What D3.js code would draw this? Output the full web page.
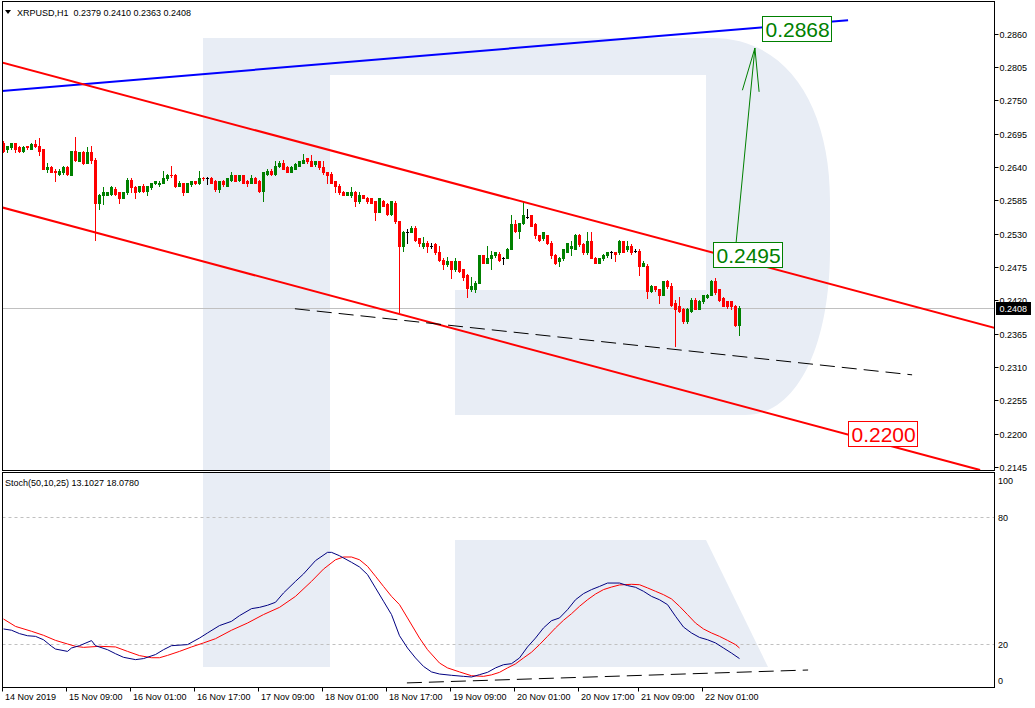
<!DOCTYPE html>
<html><head><meta charset="utf-8">
<script src="https://cdn.jsdelivr.net/npm/d3@7"></script>
<style>body{margin:0;background:#fff;} svg{display:block;font-family:"Liberation Sans",Arial,sans-serif;}</style>
</head><body><svg id="c" width="1035" height="708"></svg>
<script>
// ---------------- DATA ----------------
const symbolTitle = "XRPUSD,H1  0.2379 0.2410 0.2363 0.2408";
const stochTitle = "Stoch(50,10,25) 13.1027 18.0780";
const opens = [
.2680,.2669,.2672,.2679,.2672,.2667,.2674,.2670,.2677,.2675,
.2669,.2636,.2639,.2634,.2629,.2631,.2639,.2627,.2667,.2650,
.2665,.2647,.2665,.2652,.2581,.2593,.2594,.2596,.2604,.2598,
.2589,.2598,.2619,.2606,.2601,.2609,.2601,.2606,.2613,.2611,
.2614,.2621,.2627,.2627,.2609,.2613,.2599,.2611,.2616,.2613,
.2622,.2622,.2622,.2617,.2603,.2617,.2609,.2619,.2626,.2619,
.2626,.2617,.2614,.2622,.2617,.2601,.2629,.2634,.2629,.2641,
.2647,.2639,.2632,.2637,.2642,.2647,.2654,.2650,.2644,.2649,
.2639,.2631,.2629,.2616,.2609,.2599,.2594,.2593,.2599,.2583,
.2593,.2589,.2588,.2583,.2566,.2584,.2578,.2563,.2581,.2550,
.2510,.2533,.2533,.2540,.2522,.2509,.2515,.2510,.2512,.2499,
.2487,.2479,.2484,.2471,.2484,.2471,.2462,.2438,.2439,.2449,
.2494,.2482,.2489,.2494,.2497,.2490,.2490,.2505,.2545,.2535,
.2547,.2558,.2560,.2545,.2527,.2522,.2527,.2515,.2495,.2484,
.2489,.2500,.2507,.2505,.2528,.2512,.2499,.2517,.2490,.2482,
.2489,.2494,.2499,.2499,.2499,.2517,.2504,.2510,.2502,.2502,
.2477,.2477,.2436,.2443,.2438,.2429,.2451,.2443,.2415,.2411,
.2406,.2385,.2403,.2421,.2406,.2418,.2426,.2429,.2451,.2438,
.2424,.2418,.2418,.2411,.2379];
const highs = [
.2682,.2675,.2680,.2679,.2674,.2674,.2675,.2679,.2685,.2687,
.2670,.2646,.2641,.2636,.2636,.2641,.2641,.2667,.2690,.2665,
.2667,.2672,.2674,.2655,.2596,.2606,.2599,.2608,.2606,.2599,
.2599,.2621,.2621,.2609,.2609,.2611,.2609,.2614,.2617,.2616,
.2634,.2629,.2641,.2629,.2616,.2614,.2614,.2617,.2617,.2634,
.2624,.2624,.2624,.2619,.2617,.2619,.2622,.2632,.2627,.2627,
.2627,.2619,.2626,.2624,.2619,.2632,.2637,.2636,.2649,.2649,
.2652,.2641,.2641,.2646,.2650,.2662,.2655,.2659,.2650,.2650,
.2649,.2632,.2631,.2617,.2611,.2601,.2599,.2606,.2601,.2598,
.2594,.2591,.2589,.2584,.2589,.2586,.2580,.2584,.2583,.2551,
.2535,.2537,.2542,.2542,.2523,.2525,.2517,.2514,.2514,.2509,
.2489,.2492,.2485,.2490,.2485,.2472,.2464,.2459,.2451,.2495,
.2495,.2509,.2502,.2500,.2499,.2492,.2507,.2560,.2553,.2548,
.2583,.2570,.2561,.2547,.2528,.2533,.2528,.2517,.2497,.2492,
.2505,.2515,.2517,.2530,.2530,.2514,.2532,.2532,.2492,.2490,
.2497,.2500,.2502,.2499,.2520,.2518,.2517,.2512,.2504,.2504,
.2484,.2479,.2446,.2444,.2439,.2452,.2454,.2448,.2421,.2426,
.2408,.2408,.2423,.2423,.2421,.2429,.2431,.2454,.2456,.2439,
.2426,.2419,.2419,.2413,.2410];
const lows = [
.2665,.2664,.2670,.2664,.2665,.2665,.2670,.2669,.2672,.2659,
.2636,.2631,.2631,.2616,.2626,.2629,.2627,.2626,.2650,.2649,
.2644,.2646,.2647,.2520,.2571,.2578,.2593,.2594,.2594,.2581,
.2588,.2596,.2598,.2588,.2599,.2599,.2593,.2604,.2611,.2609,
.2613,.2619,.2624,.2606,.2608,.2593,.2598,.2609,.2611,.2611,
.2619,.2611,.2613,.2601,.2598,.2609,.2608,.2617,.2616,.2617,
.2613,.2609,.2613,.2613,.2599,.2583,.2627,.2627,.2627,.2639,
.2636,.2631,.2631,.2636,.2641,.2646,.2647,.2641,.2642,.2637,
.2629,.2614,.2613,.2599,.2596,.2593,.2593,.2591,.2576,.2581,
.2588,.2581,.2580,.2553,.2565,.2575,.2561,.2561,.2548,.2400,
.2502,.2515,.2532,.2518,.2510,.2507,.2500,.2507,.2497,.2485,
.2471,.2477,.2457,.2469,.2467,.2454,.2426,.2436,.2433,.2448,
.2481,.2481,.2471,.2492,.2485,.2479,.2489,.2504,.2533,.2523,
.2545,.2555,.2542,.2523,.2518,.2520,.2512,.2490,.2479,.2476,
.2487,.2499,.2495,.2504,.2510,.2497,.2497,.2489,.2481,.2481,
.2487,.2492,.2490,.2484,.2497,.2499,.2502,.2497,.2500,.2462,
.2476,.2424,.2434,.2436,.2416,.2428,.2441,.2411,.2344,.2401,
.2383,.2383,.2401,.2405,.2405,.2416,.2424,.2428,.2431,.2419,
.2410,.2408,.2406,.2377,.2363];
const closes = [
.2667,.2674,.2679,.2670,.2667,.2672,.2672,.2677,.2675,.2667,
.2636,.2639,.2632,.2631,.2634,.2639,.2629,.2667,.2652,.2664,
.2646,.2665,.2652,.2581,.2594,.2598,.2598,.2606,.2596,.2588,
.2598,.2619,.2606,.2599,.2608,.2601,.2608,.2613,.2616,.2614,
.2621,.2627,.2626,.2608,.2614,.2599,.2613,.2616,.2613,.2622,
.2621,.2622,.2614,.2603,.2616,.2611,.2621,.2626,.2617,.2626,
.2614,.2614,.2622,.2614,.2601,.2631,.2634,.2629,.2641,.2647,
.2637,.2632,.2639,.2644,.2649,.2652,.2649,.2642,.2649,.2639,
.2631,.2626,.2614,.2608,.2598,.2594,.2598,.2598,.2583,.2593,
.2589,.2583,.2581,.2566,.2588,.2576,.2563,.2583,.2550,.2510,
.2533,.2533,.2540,.2520,.2514,.2515,.2509,.2510,.2499,.2487,
.2479,.2484,.2471,.2484,.2469,.2459,.2441,.2443,.2449,.2494,
.2482,.2489,.2494,.2499,.2487,.2490,.2505,.2545,.2535,.2547,
.2560,.2558,.2543,.2527,.2520,.2532,.2515,.2494,.2482,.2490,
.2504,.2514,.2509,.2528,.2512,.2499,.2517,.2490,.2482,.2489,
.2495,.2499,.2499,.2497,.2518,.2500,.2510,.2499,.2502,.2477,
.2482,.2436,.2444,.2438,.2429,.2451,.2443,.2413,.2406,.2403,
.2385,.2406,.2421,.2406,.2419,.2428,.2429,.2451,.2433,.2421,
.2411,.2410,.2410,.2379,.2408];
const lastPrice = 0.2408;
const priceTicks = [0.2860,0.2805,0.2750,0.2695,0.2640,0.2585,0.2530,0.2475,0.2420,0.2365,0.2310,0.2255,0.2200,0.2145];
const stochTicks = [100,80,20,0];
const stochLevels = [80,20];
const timeLabels = ["14 Nov 2019","15 Nov 09:00","16 Nov 01:00","16 Nov 17:00","17 Nov 09:00","18 Nov 01:00","18 Nov 17:00","19 Nov 09:00","20 Nov 01:00","20 Nov 17:00","21 Nov 09:00","22 Nov 01:00"];
const timeLabelIdx = [0,16,32,48,64,80,96,112,128,144,159,175];
const stochMainIdx = [0,2,4,6,8,10,12,13,16,17,19,22,23,26,28,30,33,35,38,40,42,46,49,51,54,57,59,62,64,66,68,70,73,75,78,81,82,84,87,89,91,93,95,97,99,101,103,105,107,109,112,115,117,119,121,123,125,127,129,131,133,135,137,139,141,143,145,147,149,151,154,156,158,160,162,164,166,168,170,172,174,176,178,180,182,184];
const stochMainVal = [27.1,26.5,24.9,23.9,23.6,22.0,18.9,17.6,16.5,18.1,19.2,21.6,19.2,17.3,15.4,13.7,12.6,13.1,15.0,17.3,19.2,19.7,22.8,25.2,28.7,30.7,33.4,36.7,37.3,38.3,39.7,44.1,49.6,53.1,59.4,63.3,63.3,61.7,58.6,56.4,52.8,46.5,40.2,33.9,23.9,18.1,13.4,9.4,6.8,5.8,5.2,4.7,4.4,5.5,6.6,8.7,10.2,10.7,13.4,18.6,22.8,27.6,31.0,32.3,36.2,40.9,43.8,45.7,47.2,48.8,48.8,47.6,46.8,44.9,42.5,40.9,38.6,33.1,28.0,25.2,23.1,22.0,20.5,18.1,15.7,13.1];
const stochSigIdx = [0,3,7,10,13,16,18,20,24,28,31,34,37,39,41,44,47,50,53,57,61,65,69,73,77,80,83,85,87,89,91,93,95,97,99,101,104,106,109,111,114,117,120,122,124,126,128,130,132,134,136,138,140,142,144,146,148,150,152,154,157,159,161,163,165,167,169,171,173,175,177,179,181,183,184];
const stochSigVal = [31.8,28.3,26.0,24.1,21.7,20.0,18.9,18.4,18.9,18.6,16.5,14.5,13.5,13.5,14.6,16.5,18.6,20.5,22.5,26.5,29.9,33.9,37.3,42.5,49.6,55.4,59.8,61.1,61.1,59.8,56.7,52.0,47.2,42.5,38.6,32.3,22.8,17.3,11.0,8.7,6.8,5.0,4.7,5.4,6.6,8.7,10.6,13.4,16.1,19.7,23.6,27.6,31.2,34.3,37.8,40.9,43.6,45.7,46.9,47.9,48.2,48.0,46.5,44.9,43.3,41.3,37.8,33.9,29.9,27.1,25.2,23.6,21.7,19.7,18.1];
// drawn objects, as [bar index, value] end points
const blueTrend = [[-0.8,0.2765],[211.2,0.2882]];
const upperChannel = [[-0.8,0.2813],[248,0.2374]];
const lowerChannel = [[-0.8,0.2574],[244.2,0.2140]];
const supportMain = [[72.9,0.2406],[227.2,0.2297]];
const supportStoch = [[100.9,1.6],[201.2,7.7]];
const forecastArrow = [[183.2,0.2515],[187.9,0.2836]];
const targetValues = [0.2868,0.2495,0.2200];
const targetIdx = [189.7,177.4,211.2];

// ---------------- DRAW ----------------
const svg = d3.select("#c");
const GREEN="#008000", RED="#ff0000", BLUE="#0000ff", NAVY="#000080", WM="#e8edf5";
const L=2.5, R=994.5, T=1.5, B=470.5, ST=472.5, SB=687.5;
const x = d3.scaleLinear().domain([0,184]).range([3.3,739.3]);
const y = d3.scaleLinear().domain([0.2145,0.2860]).range([467,33.5]);
const ys = d3.scaleLinear().domain([0,100]).range([686.3,474.7]);

const defs = svg.append("defs");
defs.append("clipPath").attr("id","cm").append("rect").attr("x",L).attr("y",T).attr("width",R-L).attr("height",B-T);
defs.append("clipPath").attr("id","cs").append("rect").attr("x",L).attr("y",ST).attr("width",R-L).attr("height",SB-ST);

// watermark logo
const gm = svg.append("g").attr("clip-path","url(#cm)");
gm.append("path").attr("fill",WM).attr("d","M203,38 H712 C790,38 830,110 830,200 V250 C830,340 800,415 745,415 H455 V290 H706 V75 H330 V471 H203 Z");
const gs = svg.append("g").attr("clip-path","url(#cs)");
gs.append("rect").attr("fill",WM).attr("x",203).attr("y",ST).attr("width",127).attr("height",667-ST);
gs.append("path").attr("fill",WM).attr("d","M455,540 H706 L768,667 H455 Z");

// current price line
gm.append("line").attr("x1",L).attr("x2",R).attr("y1",Math.round(y(lastPrice))+0.5).attr("y2",Math.round(y(lastPrice))+0.5).attr("stroke","#c0c0c0");

// candles
const bars = closes.map((c,i)=>({i,o:opens[i],h:highs[i],l:lows[i],c}));
const colOf = d => d.c>d.o?GREEN:(d.c<d.o?RED:"#000");
const cg = gm.append("g");
cg.selectAll("line.w").data(bars).join("line").attr("class","w")
  .attr("x1",d=>Math.round(x(d.i))+0.5).attr("x2",d=>Math.round(x(d.i))+0.5)
  .attr("y1",d=>Math.round(y(d.h))).attr("y2",d=>Math.round(y(d.l))+1)
  .attr("stroke",colOf);
cg.selectAll("rect.b").data(bars).join("rect").attr("class","b")
  .attr("x",d=>Math.round(x(d.i))-1).attr("width",3)
  .attr("y",d=>Math.round(y(Math.max(d.o,d.c))))
  .attr("height",d=>Math.max(1,Math.round(y(Math.min(d.o,d.c)))-Math.round(y(Math.max(d.o,d.c)))+1))
  .attr("fill",colOf);

// objects
const seg = (g,pts,sc,col,w,dash)=>{
  const p=g.append("line").attr("x1",x(pts[0][0])).attr("y1",sc(pts[0][1])).attr("x2",x(pts[1][0])).attr("y2",sc(pts[1][1]))
   .attr("stroke",col).attr("stroke-width",w);
  if(dash) p.attr("stroke-dasharray",dash);
  return p;
};
seg(gm,blueTrend,y,BLUE,2);
seg(gm,upperChannel,y,RED,2);
seg(gm,lowerChannel,y,RED,2);
seg(gm,supportMain,y,"#000",1,"15,7");
// arrow
seg(gm,forecastArrow,y,GREEN,1);
{
  const x0=x(forecastArrow[0][0]),y0=y(forecastArrow[0][1]),x1=x(forecastArrow[1][0]),y1=y(forecastArrow[1][1]);
  const a=Math.atan2(y0-y1,x0-x1), len=44, spread=11*Math.PI/180;
  [a-spread,a+spread].forEach(b=>gm.append("line").attr("x1",x1).attr("y1",y1).attr("x2",x1+len*Math.cos(b)).attr("y2",y1+len*Math.sin(b)).attr("stroke",GREEN));
}
// target labels
targetValues.forEach((v,k)=>{
  const col = v<lastPrice?RED:GREEN;
  const gx=Math.round(x(targetIdx[k]))+0.5, gy=Math.round(y(v));
  const g=svg.append("g");
  const r=g.append("rect").attr("fill","#fff").attr("stroke",col).attr("stroke-width",1);
  const t=g.append("text").attr("x",gx+3).attr("y",gy+7.5).attr("fill",col).attr("font-size",21).text(v.toFixed(4));
  const w=t.node().getComputedTextLength();
  r.attr("x",gx).attr("y",gy-12.5).attr("width",Math.round(w)+5).attr("height",25);
});

// stochastic
gs.selectAll("line.lvl").data(stochLevels).join("line").attr("class","lvl")
  .attr("x1",L).attr("x2",R).attr("y1",d=>Math.round(ys(d))+0.5).attr("y2",d=>Math.round(ys(d))+0.5)
  .attr("stroke","#c0c0c0").attr("stroke-dasharray","3,3");
const sline = d3.line().x(d=>Math.round(x(d[0]))+0.5).y(d=>ys(d[1]));
gs.append("path").attr("d",sline(stochSigIdx.map((k,i)=>[k,stochSigVal[i]]))).attr("fill","none").attr("stroke",RED).attr("stroke-width",1);
gs.append("path").attr("d",sline(stochMainIdx.map((k,i)=>[k,stochMainVal[i]]))).attr("fill","none").attr("stroke",NAVY).attr("stroke-width",1);
seg(gs,supportStoch,ys,"#000",1,"15,7");

// frames
svg.append("rect").attr("x",L).attr("y",T).attr("width",R-L).attr("height",B-T).attr("fill","none").attr("stroke","#000");
svg.append("rect").attr("x",L).attr("y",ST).attr("width",R-L).attr("height",SB-ST).attr("fill","none").attr("stroke","#000");

// price axis
const ax = svg.append("g").attr("font-size",9).attr("fill","#000");
priceTicks.forEach(v=>{
  const yy=Math.round(y(v));
  ax.append("line").attr("x1",R).attr("x2",R+4).attr("y1",yy+0.5).attr("y2",yy+0.5).attr("stroke","#000");
  ax.append("text").attr("x",999.5).attr("y",yy+3.5).text(v.toFixed(4));
});
{
  const yy=Math.round(y(lastPrice));
  ax.append("rect").attr("x",996).attr("y",yy-6).attr("width",35).attr("height",13).attr("fill","#000");
  ax.append("text").attr("x",999.5).attr("y",yy+3.5).attr("fill","#fff").text(lastPrice.toFixed(4));
}
stochTicks.forEach(v=>{
  const yy=Math.max(480,Math.min(680,Math.round(ys(v))));
  ax.append("text").attr("x",998).attr("y",yy+3.5).text(v);
});
// time axis
timeLabelIdx.forEach((k,j)=>{
  const xx=Math.round(x(k))-0.5;
  ax.append("line").attr("x1",xx).attr("x2",xx).attr("y1",SB).attr("y2",SB+4).attr("stroke","#000");
  ax.append("text").attr("x",xx+2.5).attr("y",699.5).text(timeLabels[j]);
});
// titles
svg.append("path").attr("d","M5,10 L11,10 L8,14 Z").attr("fill","#000");
svg.append("text").attr("x",17).attr("y",16).attr("font-size",9).style("white-space","pre").text(symbolTitle);
svg.append("text").attr("x",5).attr("y",486).attr("font-size",9).text(stochTitle);
</script></body></html>
